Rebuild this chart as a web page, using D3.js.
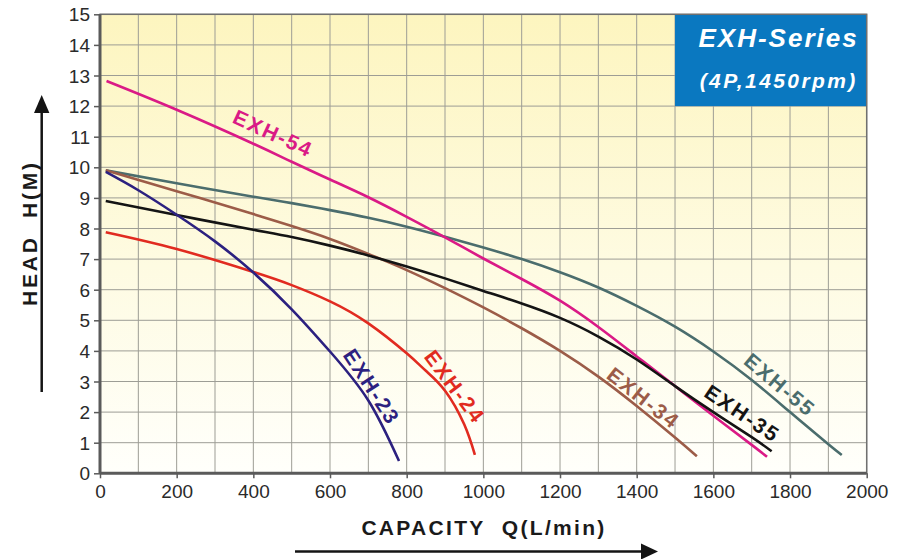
<!DOCTYPE html>
<html><head><meta charset="utf-8">
<script src="https://cdn.jsdelivr.net/npm/d3@7"></script>
<style>
html,body{margin:0;padding:0;background:#fff;}
svg{display:block;font-family:"Liberation Sans",Arial,sans-serif;}
</style></head>
<body><svg id="chart" width="902" height="559"></svg>
<script>
// ---- data ----
const xTicks = [0,200,400,600,800,1000,1200,1400,1600,1800,2000];
const yTicks = [0,1,2,3,4,5,6,7,8,9,10,11,12,13,14,15];
const seriesNames = ["EXH-23","EXH-24","EXH-34","EXH-35","EXH-54","EXH-55"];
const exh23 = [[15,9.85],[100,9.25],[200,8.45],[300,7.58],[400,6.56],[500,5.36],[600,3.98],[700,2.38],[780,0.4]];
const exh24 = [[15,7.88],[200,7.33],[400,6.58],[500,6.15],[600,5.62],[700,4.9],[800,3.92],[850,3.35],[900,2.7],[950,1.6],[978,0.6]];
const exh34 = [[15,9.9],[200,9.22],[400,8.47],[500,8.08],[600,7.66],[700,7.17],[800,6.64],[900,6.05],[1000,5.42],[1100,4.74],[1200,4.0],[1300,3.16],[1400,2.2],[1500,1.17],[1557,0.56]];
const exh35 = [[15,8.9],[200,8.44],[400,7.96],[500,7.72],[600,7.44],[700,7.12],[800,6.76],[900,6.37],[1000,5.96],[1100,5.55],[1200,5.08],[1300,4.47],[1400,3.72],[1500,2.85],[1600,2.0],[1700,1.18],[1752,0.72]];
const exh54 = [[17,12.82],[200,11.88],[400,10.77],[500,10.18],[600,9.6],[700,9.02],[800,8.38],[900,7.71],[1000,7.02],[1100,6.35],[1200,5.64],[1300,4.78],[1400,3.82],[1500,2.85],[1600,1.88],[1700,0.93],[1740,0.54]];
const exh55 = [[15,9.9],[200,9.48],[400,9.04],[500,8.83],[600,8.6],[700,8.35],[800,8.06],[900,7.73],[1000,7.38],[1100,7.0],[1200,6.57],[1300,6.07],[1400,5.47],[1500,4.79],[1600,3.98],[1700,3.05],[1800,2.0],[1900,0.95],[1935,0.6]];
const seriesValues = [exh23, exh24, exh34, exh35, exh54, exh55];
const seriesColors = ["#2c2180","#e12b20","#9c5c48","#141414","#da1a86","#4b6d6d"];
// label anchor (data coords) and rotation
const labelAnchors = [[709,2.83],[926,2.83],[1418,2.46],[1676,1.96],[452,11.11],[1774,2.89]];
const labelAngles = [57,53,38,34,24.6,40];
const boxTitle = "EXH-Series";
const boxSub = "(4P,1450rpm)";
const xTitle = "CAPACITY\u00a0\u00a0Q(L/min)";
const yTitle = "HEAD\u00a0\u00a0H(M)";

// ---- layout ----
const svg = d3.select("#chart");
const L = 100, R = 866.7, T = 14.3, B = 473.3;
const x = d3.scaleLinear().domain([0,2000]).range([L,R]);
const y = d3.scaleLinear().domain([0,15]).range([B,T]);

const defs = svg.append("defs");
const grad = defs.append("linearGradient").attr("id","bg").attr("x1",0).attr("y1",0).attr("x2",0).attr("y2",1);
grad.append("stop").attr("offset","0%").attr("stop-color","#fdf5bf");
grad.append("stop").attr("offset","55%").attr("stop-color","#fefbe2");
grad.append("stop").attr("offset","100%").attr("stop-color","#fffffb");
const clip = defs.append("clipPath").attr("id","clip");
clip.append("rect").attr("x",L).attr("y",T).attr("width",R-L).attr("height",B-T);

svg.append("rect").attr("x",L).attr("y",T).attr("width",R-L).attr("height",B-T).attr("fill","url(#bg)");

// grid
const gridX = d3.range(0,2001,100);
svg.append("g").selectAll("line").data(gridX).join("line")
  .attr("x1",d=>x(d)).attr("x2",d=>x(d)).attr("y1",T).attr("y2",B)
  .attr("stroke","#9d9d95").attr("stroke-width",1);
svg.append("g").selectAll("line").data(yTicks).join("line")
  .attr("x1",L).attr("x2",R).attr("y1",d=>y(d)).attr("y2",d=>y(d))
  .attr("stroke","#9d9d95").attr("stroke-width",1);

// info box
svg.append("rect").attr("x",x(1500)).attr("y",T).attr("width",R-x(1500)).attr("height",y(12)-T)
  .attr("fill","#0a78c0");
svg.append("text").attr("x",R-8).attr("y",47).attr("text-anchor","end")
  .attr("fill","#fff").attr("font-size",26).attr("font-weight","bold").attr("font-style","italic")
  .attr("letter-spacing","2px").text(boxTitle);
svg.append("text").attr("x",R-9).attr("y",88).attr("text-anchor","end")
  .attr("fill","#fff").attr("font-size",21).attr("font-weight","bold").attr("font-style","italic")
  .attr("letter-spacing","2.4px").text(boxSub);

// border
svg.append("rect").attr("x",L).attr("y",T).attr("width",R-L).attr("height",B-T)
  .attr("fill","none").attr("stroke","#707070").attr("stroke-width",1.5);

// axes
const xAxis = d3.axisBottom(x).tickValues(xTicks).tickSize(5).tickPadding(6).tickFormat(d3.format("d"));
const gx = svg.append("g").attr("transform",`translate(0,${B})`).call(xAxis);
const yAxis = d3.axisLeft(y).tickValues(yTicks).tickSize(6).tickPadding(4).tickFormat(d3.format("d"));
const gy = svg.append("g").attr("transform",`translate(${L},0)`).call(yAxis);
[gx,gy].forEach(g=>{
  g.select(".domain").attr("stroke","#5a5a5a").attr("stroke-width",3);
  g.selectAll(".tick line").attr("stroke","#5a5a5a").attr("stroke-width",1.5);
  g.selectAll(".tick text").attr("fill","#2a2a2a").attr("font-size",19)
    .attr("font-family","'Liberation Sans',Arial,sans-serif");
});
gx.select(".domain").attr("d",`M${L},0H${R}`);
gy.select(".domain").attr("d",`M0,${B}V${T}`);
gy.selectAll(".tick text").attr("dy","0.35em");

// curves
const line = d3.line().x(d=>x(d[0])).y(d=>y(d[1])).curve(d3.curveNatural);
const gc = svg.append("g").attr("clip-path","url(#clip)");
const drawOrder = [5,4,2,3,1,0];
drawOrder.forEach(i=>{
  gc.append("path").datum(seriesValues[i]).attr("d",line)
    .attr("fill","none").attr("stroke",seriesColors[i]).attr("stroke-width",2.6)
    .attr("stroke-linecap","butt");
});

// labels
seriesNames.forEach((n,i)=>{
  const px = x(labelAnchors[i][0]), py = y(labelAnchors[i][1]);
  svg.append("text").attr("transform",`translate(${px},${py}) rotate(${labelAngles[i]})`)
    .attr("text-anchor","middle").attr("dominant-baseline","central")
    .attr("fill",seriesColors[i]).attr("font-size",21).attr("font-weight","bold")
    .attr("letter-spacing","2px").text(n);
});

// axis titles and arrows
svg.append("text").attr("x",484).attr("y",535).attr("text-anchor","middle")
  .attr("fill","#1a1a1a").attr("font-size",21).attr("font-weight","bold")
  .attr("letter-spacing","2.3px").text(xTitle);
svg.append("text").attr("transform","translate(29,233) rotate(-90)").attr("text-anchor","middle")
  .attr("dominant-baseline","central")
  .attr("fill","#1a1a1a").attr("font-size",21).attr("font-weight","bold")
  .attr("letter-spacing","2.8px").text(yTitle);

const arrowC = "#141414";
svg.append("line").attr("x1",295).attr("x2",645).attr("y1",551.5).attr("y2",551.5)
  .attr("stroke",arrowC).attr("stroke-width",2.5);
svg.append("path").attr("d","M658,551.5L641,543.5L641,559.5Z").attr("fill",arrowC);
svg.append("line").attr("x1",41.7).attr("x2",41.7).attr("y1",392).attr("y2",108)
  .attr("stroke",arrowC).attr("stroke-width",2.5);
svg.append("path").attr("d","M41.7,95L34,113L49.4,113Z").attr("fill",arrowC);
</script></body></html>
